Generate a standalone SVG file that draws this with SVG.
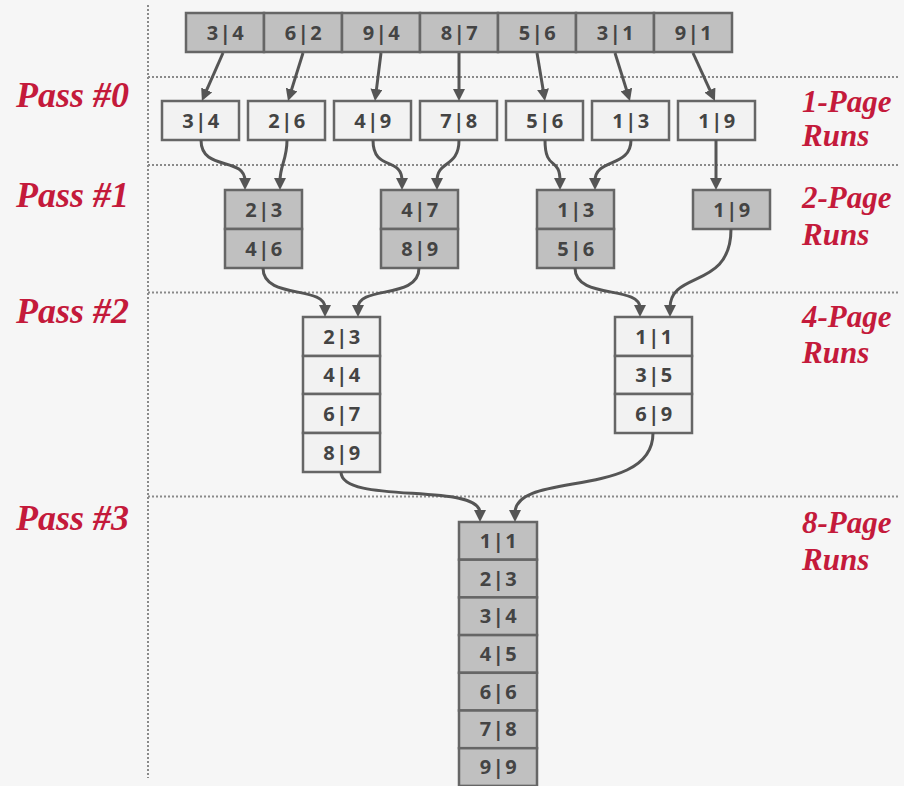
<svg xmlns="http://www.w3.org/2000/svg" width="904" height="786" viewBox="0 0 904 786">
<defs>
<style>
.bg{fill:#f6f6f6}
.dot{stroke:#8a8a8a;stroke-width:2;stroke-dasharray:2 2;fill:none}
.g{fill:#c0c0c0;stroke:#666;stroke-width:2.5}
.l{fill:#f2f2f2;stroke:#666;stroke-width:2.5}
.t{font-family:"Open Sans","DejaVu Sans",sans-serif;font-weight:700;font-size:20px;fill:#444;text-anchor:middle;letter-spacing:1.5px}
.p{font-family:"Liberation Serif","Times New Roman",serif;font-weight:700;font-style:italic;font-size:36px;fill:#c41a3b;text-anchor:end}
.r{font-family:"Liberation Serif","Times New Roman",serif;font-weight:700;font-style:italic;font-size:31px;fill:#c41a3b}
.a{stroke:#555;stroke-width:3;fill:none;marker-end:url(#ah)}
</style>
<marker id="ah" viewBox="0 0 12 12" markerWidth="12" markerHeight="12" markerUnits="userSpaceOnUse" refX="3" refY="6" orient="auto">
<path d="M0,0 L12,6 L0,12 z" fill="#555"/>
</marker>
</defs>
<rect class="bg" x="0" y="0" width="904" height="786"/>
<g id="guides">
<line class="dot" x1="148" y1="5" x2="148" y2="778"/>
<line class="dot" x1="148" y1="77" x2="898" y2="77"/>
<line class="dot" x1="148" y1="165" x2="898" y2="165"/>
<line class="dot" x1="148" y1="292.5" x2="898" y2="292.5"/>
<line class="dot" x1="148" y1="496.5" x2="898" y2="496.5"/>
</g>
<g id="labels">
<text class="p" x="129" y="107">Pass #0</text>
<text class="p" x="129" y="207">Pass #1</text>
<text class="p" x="129" y="323">Pass #2</text>
<text class="p" x="129" y="530">Pass #3</text>
<text class="r" x="802" y="112">1-Page</text>
<text class="r" x="802" y="146">Runs</text>
<text class="r" x="802" y="208">2-Page</text>
<text class="r" x="802" y="245">Runs</text>
<text class="r" x="802" y="327">4-Page</text>
<text class="r" x="802" y="363">Runs</text>
<text class="r" x="802" y="533">8-Page</text>
<text class="r" x="802" y="570">Runs</text>
</g>
<g id="input">
<rect class="g" x="186" y="13" width="78" height="39"/><text class="t" x="226" y="40">3|4</text>
<rect class="g" x="264" y="13" width="78" height="39"/><text class="t" x="304" y="40">6|2</text>
<rect class="g" x="342" y="13" width="78" height="39"/><text class="t" x="382" y="40">9|4</text>
<rect class="g" x="420" y="13" width="78" height="39"/><text class="t" x="460" y="40">8|7</text>
<rect class="g" x="498" y="13" width="78" height="39"/><text class="t" x="538" y="40">5|6</text>
<rect class="g" x="576" y="13" width="78" height="39"/><text class="t" x="616" y="40">3|1</text>
<rect class="g" x="654" y="13" width="78" height="39"/><text class="t" x="694" y="40">9|1</text>
</g>
<g id="pass0">
<rect class="l" x="162" y="101" width="77" height="39"/><text class="t" x="201.5" y="128">3|4</text>
<rect class="l" x="248" y="101" width="77" height="39"/><text class="t" x="287.5" y="128">2|6</text>
<rect class="l" x="334" y="101" width="77" height="39"/><text class="t" x="373.5" y="128">4|9</text>
<rect class="l" x="420" y="101" width="77" height="39"/><text class="t" x="459.5" y="128">7|8</text>
<rect class="l" x="506" y="101" width="77" height="39"/><text class="t" x="545.5" y="128">5|6</text>
<rect class="l" x="592" y="101" width="77" height="39"/><text class="t" x="631.5" y="128">1|3</text>
<rect class="l" x="678" y="101" width="77" height="39"/><text class="t" x="717.5" y="128">1|9</text>
</g>
<g id="pass1">
<rect class="g" x="225" y="190" width="77" height="39"/><text class="t" x="264.5" y="217">2|3</text>
<rect class="g" x="225" y="229" width="77" height="39"/><text class="t" x="264.5" y="256">4|6</text>
<rect class="g" x="381" y="190" width="77" height="39"/><text class="t" x="420.5" y="217">4|7</text>
<rect class="g" x="381" y="229" width="77" height="39"/><text class="t" x="420.5" y="256">8|9</text>
<rect class="g" x="537" y="190" width="77" height="39"/><text class="t" x="576.5" y="217">1|3</text>
<rect class="g" x="537" y="229" width="77" height="39"/><text class="t" x="576.5" y="256">5|6</text>
<rect class="g" x="693" y="190" width="77" height="39"/><text class="t" x="732.5" y="217">1|9</text>
</g>
<g id="pass2">
<rect class="l" x="303" y="317" width="77" height="39"/><text class="t" x="342.5" y="344">2|3</text>
<rect class="l" x="303" y="356" width="77" height="38"/><text class="t" x="342.5" y="382">4|4</text>
<rect class="l" x="303" y="394" width="77" height="39"/><text class="t" x="342.5" y="421">6|7</text>
<rect class="l" x="303" y="433" width="77" height="39"/><text class="t" x="342.5" y="460">8|9</text>
<rect class="l" x="615" y="317" width="77" height="39"/><text class="t" x="654.5" y="344">1|1</text>
<rect class="l" x="615" y="356" width="77" height="38"/><text class="t" x="654.5" y="382">3|5</text>
<rect class="l" x="615" y="394" width="77" height="39"/><text class="t" x="654.5" y="421">6|9</text>
</g>
<g id="pass3">
<rect class="g" x="459" y="522" width="78" height="37.7"/><text class="t" x="499" y="548">1|1</text>
<rect class="g" x="459" y="559.7" width="78" height="37.7"/><text class="t" x="499" y="586">2|3</text>
<rect class="g" x="459" y="597.4" width="78" height="37.7"/><text class="t" x="499" y="623">3|4</text>
<rect class="g" x="459" y="635.1" width="78" height="37.7"/><text class="t" x="499" y="661">4|5</text>
<rect class="g" x="459" y="672.8" width="78" height="37.7"/><text class="t" x="499" y="699">6|6</text>
<rect class="g" x="459" y="710.5" width="78" height="37.7"/><text class="t" x="499" y="736">7|8</text>
<rect class="g" x="459" y="748.2" width="78" height="37.7"/><text class="t" x="499" y="774">9|9</text>
</g>
<g id="connectors">
<path class="a" d="M223,53 L205.5,92.7"/>
<path class="a" d="M303,53 L290.7,92.4"/>
<path class="a" d="M381,53 L376.1,92.1"/>
<path class="a" d="M459,53 L459,92"/>
<path class="a" d="M537,53 L543.5,92.1"/>
<path class="a" d="M615,53 L627.3,92.4"/>
<path class="a" d="M693,53 L711.2,92.8"/>
<path class="a" d="M201,140 C201,172 245,156 245,181"/>
<path class="a" d="M287,140 C287,160 280,165 280,181"/>
<path class="a" d="M373,140 C373,172 402,156 402,181"/>
<path class="a" d="M459,140 C459,168 437,160 437,181"/>
<path class="a" d="M545,140 C545,172 560,156 560,181"/>
<path class="a" d="M631,140 C631,168 595,158 595,181"/>
<path class="a" d="M716,140 L716,181"/>
<path class="a" d="M263,268 C263,300 325,285 325,308"/>
<path class="a" d="M419,268 C419,300 358,285 358,308"/>
<path class="a" d="M575,268 C575,300 640,285 640,308"/>
<path class="a" d="M731,229 C731,290 670,270 670,308"/>
<path class="a" d="M341,472 C341,505 480,482 480,513"/>
<path class="a" d="M653,433 C653,500 515,470 515,513"/>
</g>
</svg>
